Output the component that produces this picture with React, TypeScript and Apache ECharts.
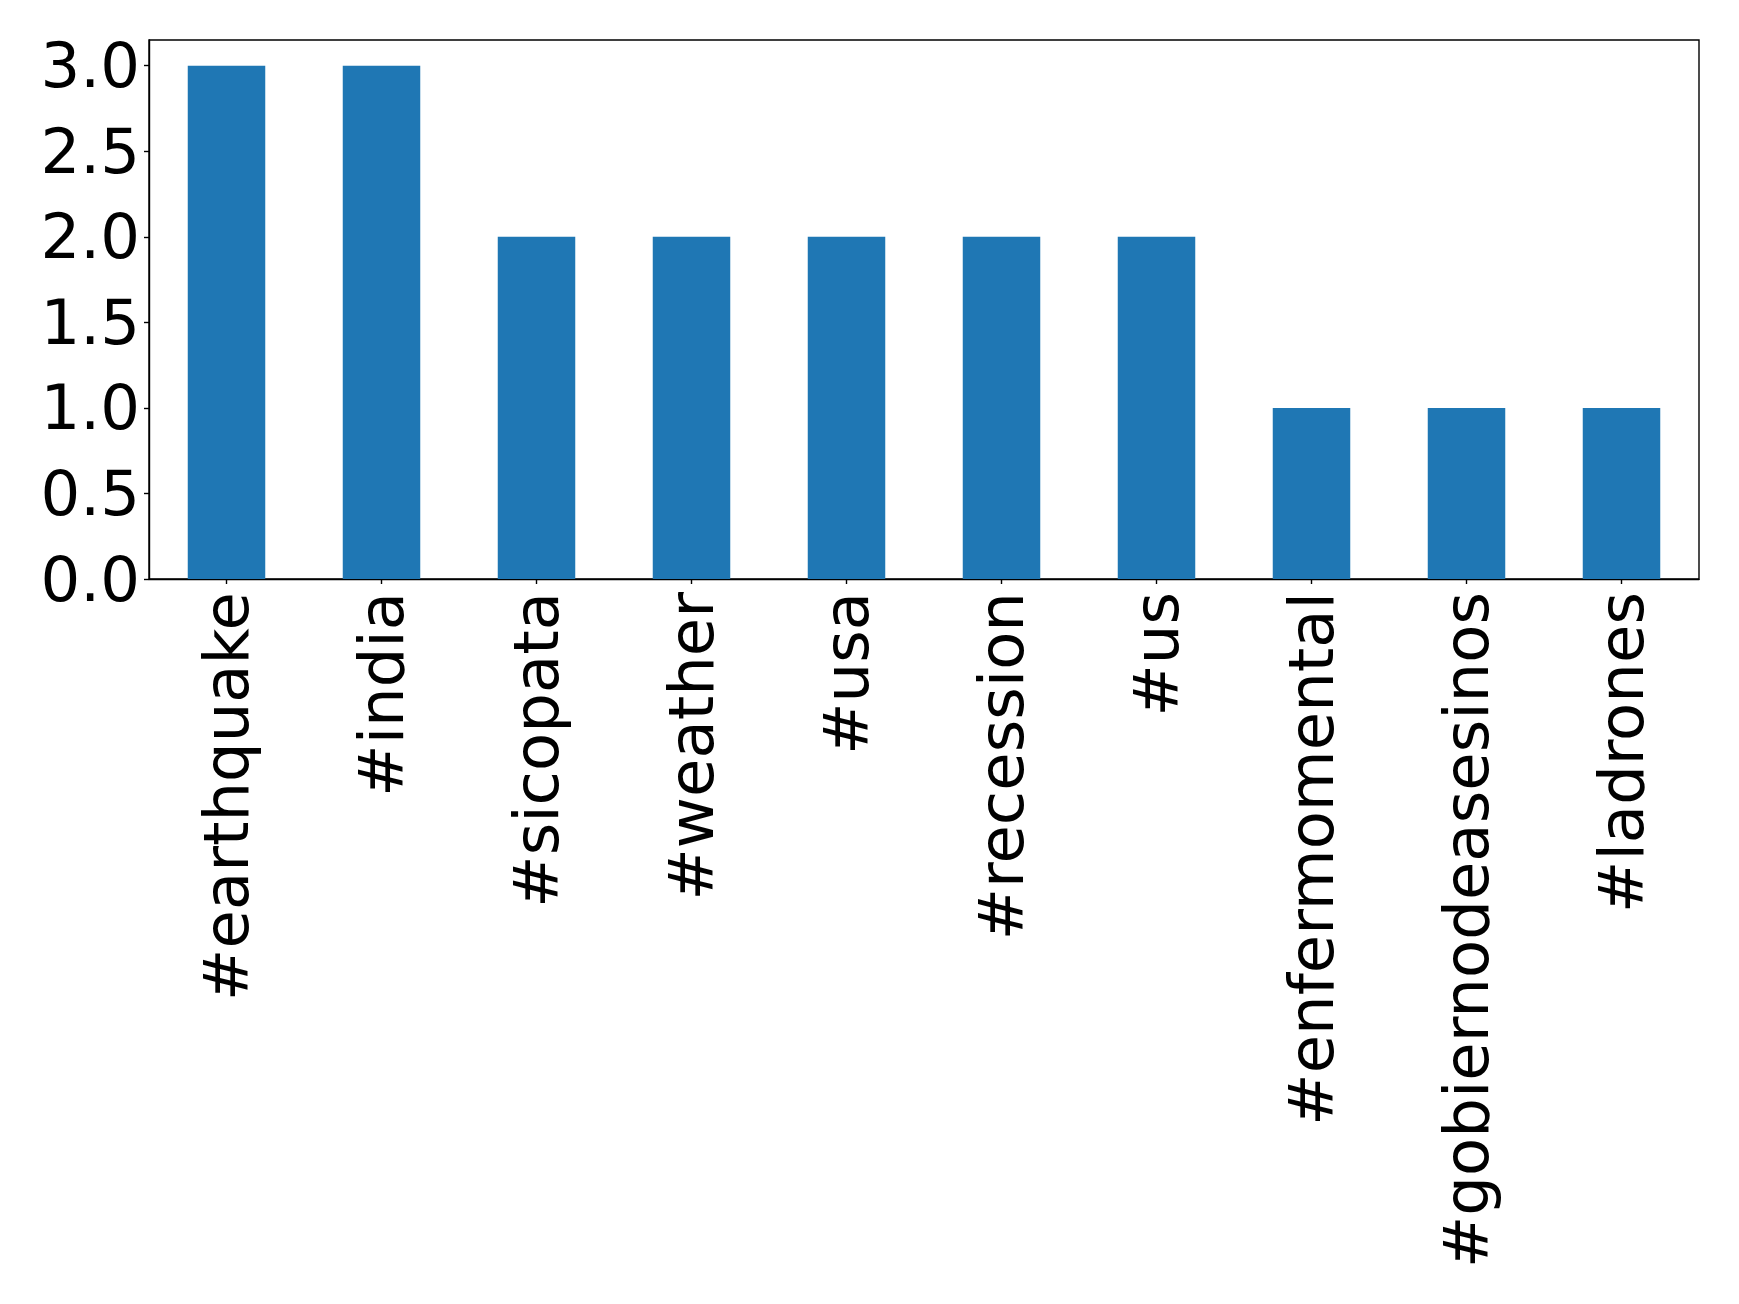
import React, { useEffect, useRef } from "react";
import * as echarts from "echarts";

const categories = [
  "#earthquake",
  "#india",
  "#sicopata",
  "#weather",
  "#usa",
  "#recession",
  "#us",
  "#enfermomental",
  "#gobiernodeasesinos",
  "#ladrones",
];
const counts = [3, 3, 2, 2, 2, 2, 2, 1, 1, 1];
const yTicks = [0, 0.5, 1, 1.5, 2, 2.5, 3];

export default function App() {
  const ref = useRef<HTMLDivElement>(null);
  useEffect(() => {
    if (!ref.current) return;
    const chart = echarts.init(ref.current, null, { renderer: "svg" });
    const font = "DejaVu Sans";
    chart.setOption({
      animation: false,
      backgroundColor: "#ffffff",
      grid: {
        left: 149,
        top: 40,
        right: 40,
        bottom: 725,
        show: true,
        borderColor: "#000000",
        borderWidth: 1.4,
        backgroundColor: "transparent",
      },
      xAxis: {
        type: "category",
        data: categories,
        axisLine: { show: true, lineStyle: { color: "#000", width: 1.4 } },
        axisTick: { show: true, alignWithLabel: true, length: 5, lineStyle: { color: "#000", width: 1.4 } },
        axisLabel: {
          rotate: 90,
          color: "#000",
          fontFamily: font,
          fontSize: 62.5,
          margin: 13,
          interval: 0,
        },
        splitLine: { show: false },
      },
      yAxis: {
        type: "value",
        min: 0,
        max: 3.15,
        interval: 0.5,
        axisLine: { show: true, lineStyle: { color: "#000", width: 1.4 } },
        axisTick: { show: true, length: 5, lineStyle: { color: "#000", width: 1.4 } },
        axisLabel: {
          color: "#000",
          fontFamily: font,
          fontSize: 62.5,
          margin: 9,
          showMaxLabel: false,
          formatter: (v: number) => (yTicks.includes(v) ? v.toFixed(1) : ""),
        },
        splitLine: { show: false },
      },
      series: [
        {
          type: "bar",
          data: counts,
          barWidth: "50%",
          itemStyle: { color: "#1f77b4" },
        },
      ],
    });
    return () => chart.dispose();
  }, []);
  return (
    <div
      ref={ref}
      style={{ position: "fixed", left: 0, top: 0, width: 1739, height: 1304, background: "#fff" }}
    />
  );
}
